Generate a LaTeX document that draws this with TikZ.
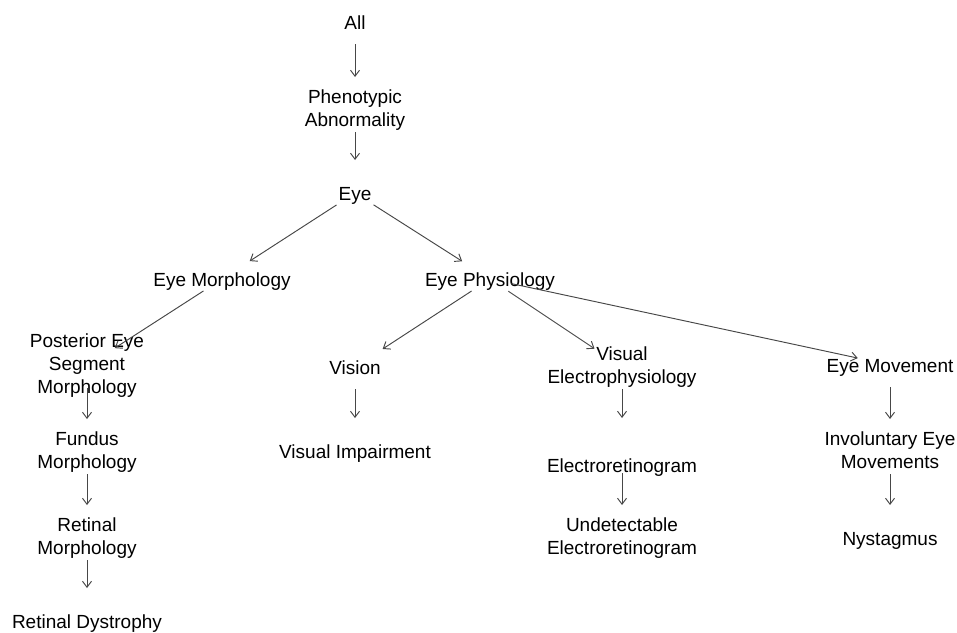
\documentclass[tikz,border=0pt]{standalone}
\usepackage{fontspec}
\setmainfont{Liberation Sans}
\usetikzlibrary{arrows.meta}
\newcommand{\bstrut}{\rule[-4.5pt]{0pt}{23pt}}
\begin{document}
\begin{tikzpicture}[x=1pt,y=-1pt,
  lbl/.style={font=\fontsize{19}{23}\selectfont, text=black, align=center, inner sep=0pt,
    execute at begin node=\bstrut, execute at end node=\bstrut},
  edge/.style={draw=black!72, line width=0.95pt, -{Straight Barb[length=6pt,width=9pt]},
    shorten <=22pt, shorten >=33pt}]
\useasboundingbox (0,0) rectangle (957,632);
\node[lbl] (all) at (355,22) {All};
\node[lbl] (pheno) at (355,110) {Phenotypic\\Abnormality};
\node[lbl] (eye) at (355,193) {Eye};
\node[lbl] (emorph) at (222,279) {Eye Morphology};
\node[lbl] (ephys) at (490,279) {Eye Physiology};
\node[lbl] (pesm) at (87,366) {Posterior Eye\\Segment\\Morphology};
\node[lbl] (fundus) at (87,452) {Fundus\\Morphology};
\node[lbl] (retmorph) at (87,538) {Retinal\\Morphology};
\node[lbl] (retdys) at (87,621) {Retinal Dystrophy};
\node[lbl] (vision) at (355,367) {Vision};
\node[lbl] (vimp) at (355,451) {Visual Impairment};
\node[lbl] (vel) at (622,367) {Visual\\Electrophysiology};
\node[lbl] (erg) at (622,465) {Electroretinogram};
\node[lbl] (uerg) at (622,538) {Undetectable\\Electroretinogram};
\node[lbl] (emov) at (890,365) {Eye Movement};
\node[lbl] (invol) at (890,452) {Involuntary Eye\\Movements};
\node[lbl] (nyst) at (890,538) {Nystagmus};

\draw[edge] (all.center) -- (pheno.center);
\draw[edge] (pheno.center) -- (eye.center);
\draw[edge] (eye.center) -- (emorph.center);
\draw[edge] (eye.center) -- (ephys.center);
\draw[edge] (emorph.center) -- (pesm.center);
\draw[edge] (pesm.center) -- (fundus.center);
\draw[edge] (fundus.center) -- (retmorph.center);
\draw[edge] (retmorph.center) -- (retdys.center);
\draw[edge] (ephys.center) -- (vision.center);
\draw[edge] (vision.center) -- (vimp.center);
\draw[edge] (ephys.center) -- (vel.center);
\draw[edge, shorten >=47pt] (vel.center) -- (erg.center);
\draw[edge, shorten <=8pt] (erg.center) -- (uerg.center);
\draw[edge] (ephys.center) -- (emov.center);
\draw[edge] (emov.center) -- (invol.center);
\draw[edge] (invol.center) -- (nyst.center);
\end{tikzpicture}
\end{document}
